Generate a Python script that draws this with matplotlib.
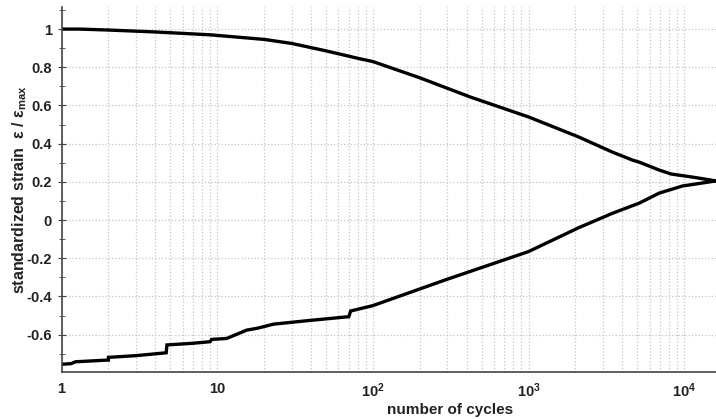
import numpy as np
import matplotlib
matplotlib.use("Agg")
import matplotlib.pyplot as plt
from matplotlib.ticker import FixedLocator, FixedFormatter, LogLocator, NullFormatter

plt.rcParams['font.family'] = ['Liberation Sans', 'DejaVu Sans']
plt.rcParams['mathtext.fontset'] = 'custom'
plt.rcParams['mathtext.rm'] = 'Liberation Sans:bold'
plt.rcParams['mathtext.bf'] = 'Liberation Sans:bold'
plt.rcParams['mathtext.it'] = 'Liberation Sans:bold:italic'

# upper branch (max strain)
n_upper = [1, 1.3, 2, 4, 9, 20, 30, 50, 80, 100, 200, 420, 1000, 2100, 3450,
           4650, 5150, 6900, 8250, 11300, 16000]
s_upper = [1.0, 1.0, 0.995, 0.985, 0.97, 0.946, 0.925, 0.886, 0.847, 0.83,
           0.745, 0.645, 0.54, 0.435, 0.356, 0.314, 0.303, 0.262, 0.241, 0.225, 0.205]

# lower branch (min strain), with the small steps
n_lower = [1.0, 1.15, 1.23, 2.0, 2.0, 3.0, 4.7, 4.75, 7.0, 9.0, 9.2, 11.5, 15.5,
           18, 23, 40, 70, 72, 100, 130, 300, 1000, 2100, 3450, 5150, 6900, 9700, 16000]
s_lower = [-0.755, -0.752, -0.742, -0.733, -0.719, -0.71, -0.695, -0.654, -0.645,
           -0.637, -0.625, -0.62, -0.576, -0.567, -0.545, -0.525, -0.506, -0.476,
           -0.448, -0.415, -0.31, -0.165, -0.04, 0.035, 0.089, 0.141, 0.178, 0.205]

xtick_vals = [1, 10, 100, 1000, 10000]
xtick_labels = ['1', '10', r'$10^2$', r'$10^3$', r'$10^4$']
ytick_vals = [-0.6, -0.4, -0.2, 0, 0.2, 0.4, 0.6, 0.8, 1.0]
ytick_labels = ['-0.6', '-0.4', '-0.2', '0', '0.2', '0.4', '0.6', '0.8', '1']

fig = plt.figure(figsize=(7.16, 4.19), dpi=100)
ax = fig.add_axes([0.086, 0.112, 0.914, 0.871])

ax.plot(n_upper, s_upper, color='black', lw=2.4, solid_joinstyle='round')
ax.plot(n_lower, s_lower, color='black', lw=2.4, solid_joinstyle='miter')

ax.set_xscale('log')
ax.set_xlim(1, 16000)
ax.set_ylim(-0.796, 1.115)

ax.xaxis.set_major_locator(FixedLocator(xtick_vals))
ax.xaxis.set_major_formatter(FixedFormatter(xtick_labels))
ax.xaxis.set_minor_locator(LogLocator(base=10, subs=np.arange(2, 10), numticks=20))
ax.xaxis.set_minor_formatter(NullFormatter())
ax.yaxis.set_major_locator(FixedLocator(ytick_vals))
ax.yaxis.set_major_formatter(FixedFormatter(ytick_labels))
ax.yaxis.set_minor_locator(FixedLocator(np.round(np.arange(-0.7, 1.11, 0.1), 2)))

ax.grid(True, which='major', axis='both', color='#c4c4c4', ls=':', lw=0.9)
ax.grid(True, which='minor', axis='x', color='#c4c4c4', ls=':', lw=0.9)

for side in ['top', 'right']:
    ax.spines[side].set_visible(False)
for side in ['left', 'bottom']:
    ax.spines[side].set_color('#444444')
    ax.spines[side].set_linewidth(1.2)

ax.tick_params(axis='both', which='both', direction='inout', colors='#444444',
               labelcolor='#222222', labelsize=10.5)
ax.tick_params(axis='y', which='major', length=6, pad=4)
ax.tick_params(axis='y', which='minor', length=4)
ax.tick_params(axis='x', which='both', length=0, pad=7)
for lab in ax.get_xticklabels() + ax.get_yticklabels():
    lab.set_fontweight('bold')

ax.set_xlabel('number of cycles', fontsize=11, fontweight='bold', color='#222222')
ax.xaxis.set_label_coords(0.594, -0.085)
ax.set_ylabel(r'standardized strain  ε / ε$_{\mathrm{max}}$', fontsize=11.5,
              fontweight='bold', color='#222222')
ax.yaxis.set_label_coords(-0.05, 0.5)

fig.savefig('out.png', dpi=100)
